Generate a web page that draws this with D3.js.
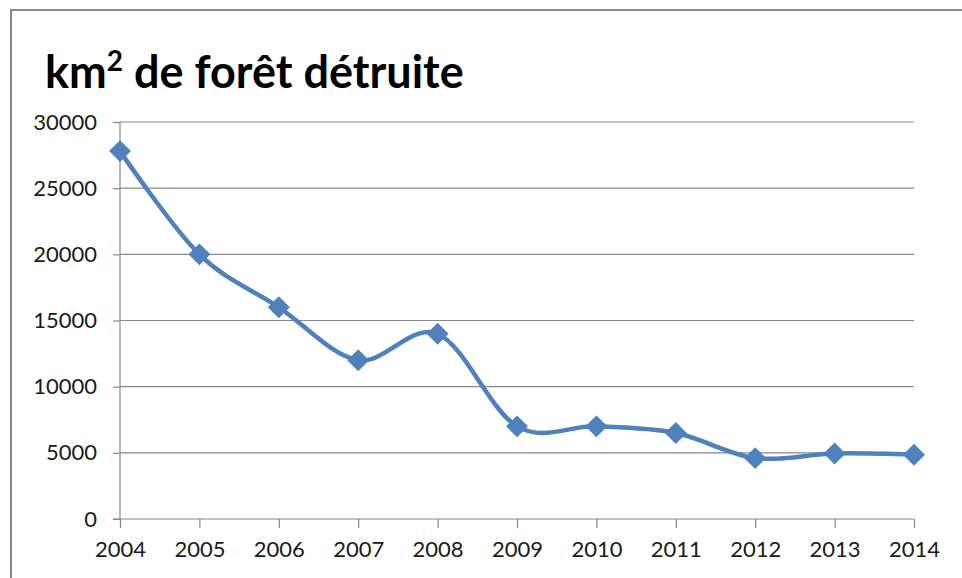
<!DOCTYPE html>
<html>
<head>
<meta charset="utf-8">
<script src="https://cdn.jsdelivr.net/npm/d3@7"></script>
<style>
  body { margin: 0; background: #fff; }
  svg { display: block; }
</style>
</head>
<body>
<svg id="chart" width="962" height="578"></svg>
<script>
var years = [2004, 2005, 2006, 2007, 2008, 2009, 2010, 2011, 2012, 2013, 2014];
var km2 = [27800, 20000, 16000, 12000, 14000, 7000, 7000, 6500, 4600, 4950, 4850];
var yTicks = [0, 5000, 10000, 15000, 20000, 25000, 30000];

var svg = d3.select("svg#chart"),
    margin = {top: 122, right: 48, bottom: 59, left: 120},
    width = +svg.attr("width") - margin.left - margin.right,
    height = +svg.attr("height") - margin.top - margin.bottom;

var font = "Lato, 'Open Sans', sans-serif";
var grey = "#878787";
var blue = "#4f81bd";

// outer frame of the chart area (continues past the window)
svg.append("rect")
    .attr("x", 11).attr("y", 10)
    .attr("width", 1000).attr("height", 600)
    .attr("fill", "none")
    .attr("stroke", "#8a8a8a")
    .attr("stroke-width", 2);

svg.append("text")
    .attr("x", 45).attr("y", 88)
    .attr("font-family", font)
    .attr("font-weight", "bold")
    .attr("font-size", 45)
    .attr("fill", "#000")
    .html('km<tspan dy="-17" font-size="28">2</tspan><tspan dy="17"> de forêt détruite</tspan>');

var x = d3.scalePoint()
    .domain(years)
    .range([0, width]);

var y = d3.scaleLinear()
    .domain([0, 30000])
    .range([height, 0]);

var g = svg.append("g")
    .attr("transform", "translate(" + margin.left + "," + margin.top + ")");

// gridlines
g.append("g")
  .selectAll("line")
  .data(yTicks.filter(function(d) { return d > 0; }))
  .enter().append("line")
    .attr("x1", 0).attr("x2", width)
    .attr("y1", function(d) { return y(d); })
    .attr("y2", function(d) { return y(d); })
    .attr("stroke", grey)
    .attr("stroke-width", 1.2);

var yAxis = g.append("g")
    .call(d3.axisLeft(y).tickValues(yTicks).tickSize(7).tickPadding(16).tickFormat(d3.format("d")));

var xAxis = g.append("g")
    .attr("transform", "translate(0," + height + ")")
    .call(d3.axisBottom(x).tickSize(9).tickPadding(13));

[yAxis, xAxis].forEach(function(a) {
  a.selectAll("path, line").attr("stroke", grey).attr("stroke-width", 1.2);
  a.select(".domain").attr("d", a === yAxis ? "M0," + height + "V0" : "M-7,0H" + width);
  a.selectAll("text")
      .attr("font-family", font)
      .attr("font-size", 22)
      .attr("fill", "#1a1a1a");
});

var line = d3.line()
    .x(function(d, i) { return x(years[i]); })
    .y(function(d) { return y(d); })
    .curve(d3.curveCardinal.tension(0));

g.append("path")
    .datum(km2)
    .attr("d", line)
    .attr("fill", "none")
    .attr("stroke", blue)
    .attr("stroke-width", 4.5)
    .attr("stroke-linejoin", "round");

g.selectAll(".marker")
    .data(km2)
  .enter().append("path")
    .attr("class", "marker")
    .attr("transform", function(d, i) { return "translate(" + x(years[i]) + "," + y(d) + ") rotate(45)"; })
    .attr("d", d3.symbol(d3.symbolSquare, 240))
    .attr("fill", blue);
</script>
</body>
</html>
